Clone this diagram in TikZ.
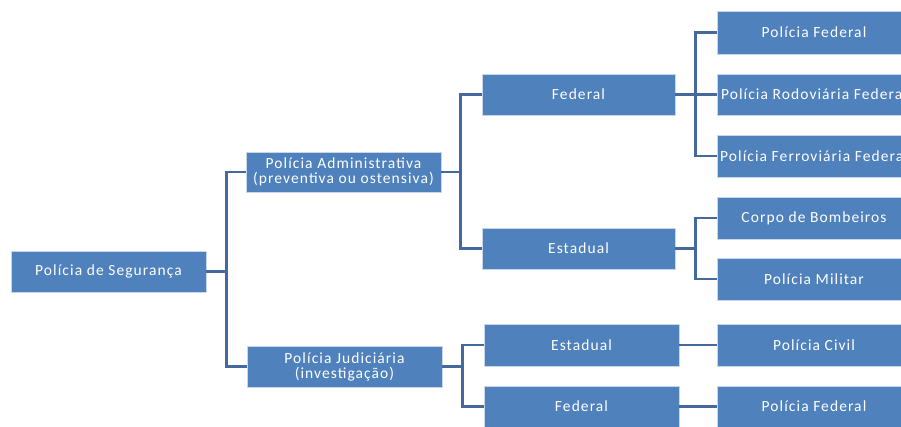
\documentclass[tikz,border=0pt]{standalone}
\usepackage{fontspec}
\setmainfont[LetterSpace=7]{Carlito}
\definecolor{boxblue}{HTML}{4F81BD}
\definecolor{boxedge}{HTML}{C9D6EA}
\definecolor{linkblue}{HTML}{45699C}
\begin{document}
\begin{tikzpicture}[x=1pt,y=-1pt,
  orgbox/.style={rectangle, fill=boxblue, draw=boxedge, line width=0.8pt,
    minimum width=195pt, minimum height=41pt, inner sep=0pt,
    text=white, font=\fontsize{15.5}{15}\selectfont, align=center},
  link/.style={draw=linkblue, line width=2.4pt}]
\useasboundingbox (0,0) rectangle (901,426);

% level 0
\node[orgbox] (root) at (108.5,271.5) {Polícia de Segurança};
% level 1
\node[orgbox, minimum height=40pt] (adm) at (343.5,172) {Polícia Administrativa\\(preventiva ou ostensiva)};
\node[orgbox] (jud) at (344.5,366.5) {Polícia Judiciária\\(investigação)};
% level 2
\node[orgbox, minimum width=193pt] (fed) at (578.5,94.5) {Federal};
\node[orgbox, minimum width=193pt] (est) at (578.5,248.5) {Estadual};
\node[orgbox, minimum height=42pt] (jest) at (581.5,345) {Estadual};
\node[orgbox] (jfed) at (581.5,406.5) {Federal};
% level 3
\node[orgbox, minimum width=194pt, minimum height=43pt] (pf) at (814,32.5) {Polícia Federal};
\node[orgbox, minimum width=194pt] (prf) at (814,94.5) {Polícia Rodoviária Federal};
\node[orgbox, minimum width=194pt, minimum height=42pt] (pff) at (814,156) {Polícia Ferroviária Federal};
\node[orgbox, minimum width=194pt, minimum height=42pt] (cb) at (814,218) {Corpo de Bombeiros};
\node[orgbox, minimum width=194pt, minimum height=42pt] (pm) at (814,279) {Polícia Militar};
\node[orgbox, minimum width=194pt, minimum height=42pt] (pc) at (814,345) {Polícia Civil};
\node[orgbox, minimum width=194pt] (pf2) at (814,406.5) {Polícia Federal};

% connectors: root
\draw[link] (root.east) -- ++(20,0);
\draw[link] (adm.west) -- ++(-19,0) |- (jud.west);
% connectors: administrativa
\draw[link] (adm.east) -- ++(20,0);
\draw[link] (fed.west) -- ++(-21,0) |- (est.west);
% connectors: judiciaria
\draw[link] (jud.east) -- ++(21,0);
\draw[link] (jest.west) -- ++(-21,0) |- (jfed.west);
% connectors: federal (administrativa)
\draw[link] (fed.east) -- ++(21,0);
\draw[link] (pf.west) -- ++(-21,0) |- (pff.west);
\draw[link] (prf.west) -- ++(-21,0);
% connectors: estadual (administrativa)
\draw[link] (est.east) -- ++(21,0);
\draw[link] (cb.west) -- ++(-21,0) |- (pm.west);
% connectors: judiciaria children
\draw[link] (jest.east) -- (pc.west);
\draw[link] (jfed.east) -- (pf2.west);
\end{tikzpicture}
\end{document}
